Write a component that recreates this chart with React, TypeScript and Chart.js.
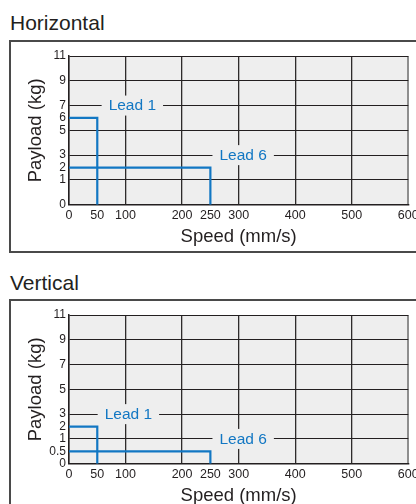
import React, { useEffect, useRef } from 'react';
import { Chart, registerables, LinearScale } from 'chart.js';

// ---------- data ----------
const speedTicks = [0, 50, 100, 200, 250, 300, 400, 500, 600];
const speedGrid = [0, 100, 200, 300, 400, 500, 600];
const payloadGrid = [0, 1, 3, 5, 7, 9, 11];

const horizontalPayloadTicks = [0, 1, 2, 3, 5, 6, 7, 9, 11];
const verticalPayloadTicks = [0, 0.5, 1, 2, 3, 5, 7, 9, 11];

const seriesNames = ['Lead 1', 'Lead 6'];

const horizontalLead1Speed = [0, 50, 50];
const horizontalLead1Payload = [6, 6, 0];
const horizontalLead6Speed = [0, 250, 250];
const horizontalLead6Payload = [2, 2, 0];

const verticalLead1Speed = [0, 50, 50];
const verticalLead1Payload = [2, 2, 0];
const verticalLead6Speed = [0, 250, 250];
const verticalLead6Payload = [0.5, 0.5, 0];

// label anchors (data units)
const horizontalLabelSpeed = [112, 308];
const horizontalLabelPayload = [7, 3];
const verticalLabelSpeed = [105, 308];
const verticalLabelPayload = [3, 1];

// ---------- styles ----------
const FONT = '"Liberation Sans", Arial, Helvetica, sans-serif';
const BLUE = '#1277c3';
const INK = '#231f20';
const PLOT_BG = '#eeeeee';

// payload axis: 0..1 occupies one grid cell, then every 2 kg one cell
function payloadToUnit(v: number) {
  return v <= 1 ? v : (v + 1) / 2;
}
function unitToPayload(u: number) {
  return u <= 1 ? u : 2 * u - 1;
}

class PayloadScale extends LinearScale {
  static id = 'payload';
  static defaults = LinearScale.defaults;
  getPixelForValue(value: number) {
    if (value === null || value === undefined) return NaN;
    const a = payloadToUnit(this.min);
    const b = payloadToUnit(this.max);
    return this.getPixelForDecimal((payloadToUnit(value) - a) / (b - a));
  }
  getValueForPixel(pixel: number) {
    const a = payloadToUnit(this.min);
    const b = payloadToUnit(this.max);
    const d = this.getDecimalForPixel(pixel);
    return unitToPayload(a + d * (b - a));
  }
}

Chart.register(...registerables, PayloadScale as any);
Chart.defaults.font.family = FONT;
Chart.defaults.color = INK;

function zip(xs: number[], ys: number[]) {
  return xs.map((x, i) => ({ x, y: ys[i] }));
}

const bgPlugin = {
  id: 'plotBg',
  beforeDraw(chart: any) {
    const { ctx, chartArea: a } = chart;
    ctx.save();
    ctx.fillStyle = PLOT_BG;
    ctx.fillRect(a.left, a.top, a.right - a.left, a.bottom - a.top);
    ctx.restore();
  },
};

function labelPlugin(names: string[], xs: number[], ys: number[]) {
  return {
    id: 'leadLabels',
    afterDatasetsDraw(chart: any) {
      const { ctx } = chart;
      const sx = chart.scales.x;
      const sy = chart.scales.y;
      ctx.save();
      ctx.font = `15.5px ${FONT}`;
      ctx.textAlign = 'center';
      ctx.textBaseline = 'middle';
      names.forEach((n, i) => {
        const px = sx.getPixelForValue(xs[i]);
        const py = sy.getPixelForValue(ys[i]);
        const w = ctx.measureText(n).width + 14;
        ctx.fillStyle = PLOT_BG;
        ctx.fillRect(px - w / 2, py - 10, w, 20);
        ctx.fillStyle = BLUE;
        ctx.fillText(n, px, py + 0.5);
      });
      ctx.restore();
    },
  };
}

type PanelProps = {
  top: number;
  payloadTicks: number[];
  lead1: { x: number; y: number }[];
  lead6: { x: number; y: number }[];
  labelX: number[];
  labelY: number[];
};

function Panel({ top, payloadTicks, lead1, lead6, labelX, labelY }: PanelProps) {
  const ref = useRef<HTMLCanvasElement>(null);
  useEffect(() => {
    if (!ref.current) return;
    const lineStyle = {
      borderColor: BLUE,
      borderWidth: 2.2,
      pointRadius: 0,
      tension: 0,
      fill: false,
      borderJoinStyle: 'miter' as const,
    };
    const chart = new Chart(ref.current, {
      type: 'line',
      data: {
        datasets: [
          { label: seriesNames[0], data: lead1, ...lineStyle },
          { label: seriesNames[1], data: lead6, ...lineStyle },
        ],
      },
      options: {
        animation: false,
        responsive: true,
        maintainAspectRatio: false,
        layout: { padding: { top: 16, right: 31.7, left: 0, bottom: 0 } },
        plugins: { legend: { display: false }, tooltip: { enabled: false } },
        scales: {
          x: {
            type: 'linear',
            min: 0,
            max: 600,
            afterBuildTicks: (s: any) => {
              s.ticks = speedTicks.map((v) => ({ value: v }));
            },
            afterFit: (s: any) => {
              s.height = 48.3;
            },
            ticks: {
              padding: 3.6,
              maxRotation: 0,
              autoSkip: false,
              font: { size: 12.5 },
              color: INK,
              callback: (v: any) => String(v),
            },
            grid: {
              drawTicks: false,
              color: (c: any) => {
                const v = c.tick?.value;
                if (v === 600) return '#8e8e8e';
                return speedGrid.includes(v) ? '#2e2b2b' : 'rgba(0,0,0,0)';
              },
              lineWidth: (c: any) => (c.tick?.value === 600 ? 2 : 1.3),
            },
            border: { color: INK, width: 1.5 },
            title: {
              display: true,
              text: 'Speed (mm/s)',
              font: { size: 18.5 },
              color: INK,
              padding: { top: 0, bottom: 4.6 },
            },
          },
          y: {
            type: 'payload' as any,
            min: 0,
            max: 11,
            afterBuildTicks: (s: any) => {
              s.ticks = payloadTicks.map((v) => ({ value: v }));
            },
            afterFit: (s: any) => {
              s.width = 69;
            },
            ticks: {
              padding: 3,
              autoSkip: false,
              font: { size: 12 },
              color: INK,
              callback: (v: any) => String(v),
            },
            grid: {
              drawTicks: false,
              color: (c: any) =>
                payloadGrid.includes(c.tick?.value) ? INK : 'rgba(0,0,0,0)',
              lineWidth: 1,
            },
            border: { color: INK, width: 1.5 },
            title: {
              display: true,
              text: 'Payload (kg)',
              font: { size: 18.5 },
              color: INK,
              padding: { top: 24.9, bottom: 0 },
            },
          },
        },
      } as any,
      plugins: [bgPlugin, labelPlugin(seriesNames, labelX, labelY)],
    });
    return () => chart.destroy();
  }, []);
  return (
    <div style={{ position: 'absolute', left: 0, top, width: 440, height: 213 }}>
      <canvas ref={ref} />
    </div>
  );
}

const titleStyle: React.CSSProperties = {
  position: 'absolute',
  left: 10,
  fontFamily: FONT,
  fontSize: 21,
  lineHeight: '21px',
  color: INK,
  whiteSpace: 'nowrap',
};

const boxStyle: React.CSSProperties = {
  position: 'absolute',
  left: 9,
  width: 500,
  border: '2px solid #4a4a4a',
  boxSizing: 'border-box',
};

export default function App() {
  return (
    <div
      style={{
        position: 'absolute',
        left: 0,
        top: 0,
        width: 416,
        height: 504,
        overflow: 'hidden',
        background: '#ffffff',
      }}
    >
      <div style={{ ...titleStyle, top: 11.5 }}>Horizontal</div>
      <div style={{ ...boxStyle, top: 40, height: 213 }} />
      <div style={{ ...titleStyle, top: 271.5 }}>Vertical</div>
      <div style={{ ...boxStyle, top: 299, height: 300 }} />
      <Panel
        top={40}
        payloadTicks={horizontalPayloadTicks}
        lead1={zip(horizontalLead1Speed, horizontalLead1Payload)}
        lead6={zip(horizontalLead6Speed, horizontalLead6Payload)}
        labelX={horizontalLabelSpeed}
        labelY={horizontalLabelPayload}
      />
      <Panel
        top={298.7}
        payloadTicks={verticalPayloadTicks}
        lead1={zip(verticalLead1Speed, verticalLead1Payload)}
        lead6={zip(verticalLead6Speed, verticalLead6Payload)}
        labelX={verticalLabelSpeed}
        labelY={verticalLabelPayload}
      />
    </div>
  );
}
